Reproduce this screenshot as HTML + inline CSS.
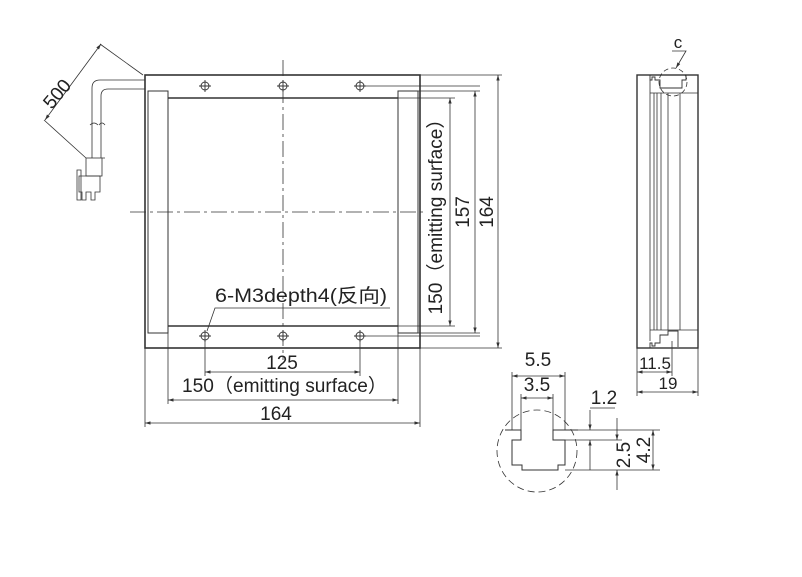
<!DOCTYPE html>
<html><head><meta charset="utf-8"><style>
html,body{margin:0;padding:0;background:#fff;}
svg{display:block;font-family:"Liberation Sans","Noto Sans CJK SC",sans-serif;}
</style></head><body>
<svg width="802" height="577" viewBox="0 0 802 577" xmlns="http://www.w3.org/2000/svg">
<defs>
<marker id="a" viewBox="0 0 10 10" refX="10" refY="5" markerWidth="7" markerHeight="7" orient="auto-start-reverse"><path d="M0,2 L10,5 L0,8 z" fill="#333"/></marker>
</defs>
<g stroke="#333" fill="none" stroke-width="1">
<rect x="145" y="75" width="275" height="273" stroke-width="1.6"/>
<rect x="148" y="91" width="20" height="242"/>
<rect x="398" y="91" width="20" height="242"/>
<line x1="168" y1="98" x2="398" y2="98" stroke-width="1.4"/>
<line x1="168" y1="326" x2="398" y2="326" stroke-width="1.4"/>
<line x1="283" y1="60" x2="283" y2="360" stroke-dasharray="16,4,3,4" stroke-width="0.8"/>
<line x1="130" y1="212" x2="425" y2="212" stroke-dasharray="16,4,3,4" stroke-width="0.8"/>
<g stroke-width="0.9">
<circle cx="205" cy="86" r="4"/><circle cx="283" cy="86" r="4"/><circle cx="360" cy="86" r="4"/>
<circle cx="205" cy="336" r="4"/><circle cx="283" cy="336" r="4"/><circle cx="360" cy="336" r="4"/>
<path d="M199,86h12M205,80v12M277,86h12M283,80v12M354,86h12M360,80v12M199,336h12M205,330v12M277,336h12M283,330v12M354,336h12M360,330v12"/>
</g>
<g stroke-width="0.8">
<line x1="364" y1="86" x2="480" y2="86"/><line x1="364" y1="336" x2="480" y2="336"/>
<line x1="398" y1="98" x2="455" y2="98"/><line x1="398" y1="326" x2="455" y2="326"/>
<line x1="418" y1="91" x2="480" y2="91"/><line x1="418" y1="333" x2="480" y2="333"/>
<line x1="420" y1="75" x2="502" y2="75"/><line x1="420" y1="348" x2="502" y2="348"/>
<line x1="450" y1="98" x2="450" y2="326" marker-start="url(#a)" marker-end="url(#a)"/>
<line x1="475" y1="91" x2="475" y2="333" marker-start="url(#a)" marker-end="url(#a)"/>
<line x1="498" y1="75" x2="498" y2="348" marker-start="url(#a)" marker-end="url(#a)"/>
<line x1="205" y1="340" x2="205" y2="376"/><line x1="360" y1="340" x2="360" y2="376"/>
<line x1="168" y1="326" x2="168" y2="404"/><line x1="398" y1="333" x2="398" y2="404"/>
<line x1="145" y1="348" x2="145" y2="427"/><line x1="420" y1="348" x2="420" y2="427"/>
<line x1="205" y1="372" x2="360" y2="372" marker-start="url(#a)" marker-end="url(#a)"/>
<line x1="168" y1="400" x2="398" y2="400" marker-start="url(#a)" marker-end="url(#a)"/>
<line x1="145" y1="423" x2="420" y2="423" marker-start="url(#a)" marker-end="url(#a)"/>
<polyline points="390,308 215,308 207,331"/>
<path d="M145,80 H100 Q92,80 92,88 V158"/>
<path d="M145,89 H108 Q101,89 101,96 V158"/>
<path d="M90,125 q4,-4 8,0 M99,125 q3,-4 6,0"/>
<rect x="86" y="158" width="16" height="18"/>
<path d="M79,176 h21 v16 h-5 v8 h-4 v-8 h-5 v8 h-4 v-8 h-3 z"/>
<path d="M77,170 h4 v30 h-4z M102,158 h3"/>
<line x1="100" y1="44" x2="143" y2="75"/>
<line x1="44" y1="120" x2="86" y2="158"/>
<line x1="45" y1="120" x2="101" y2="44" marker-start="url(#a)" marker-end="url(#a)"/>
</g>
<rect x="637" y="75" width="61" height="273" stroke-width="1.4"/>
<path d="M650,80 V341 M654,93 V330 M657,93 V330 M661,93 V330 M668,93 V330 M680,93 V330 M650,93 H698 M650,330 H698" stroke-width="0.8"/>
<path d="M650,75 v5 h2 v-3 h3 v3 h5 v8 h22 v-8 h4 v-5" stroke-width="0.9"/>
<path d="M650,348 v-5 h2 v3 h3 v-3 h5 v-8 h8 v-4 h10 v16" stroke-width="0.9"/>
<circle cx="673" cy="82" r="14" stroke-dasharray="5,3" stroke-width="0.8"/>
<path d="M672,51 H686 L676,68" stroke-width="0.8" marker-end="url(#a)"/>
<path d="M637,348 V396 M672,341 V376 M698,348 V396" stroke-width="0.8"/>
<line x1="637" y1="372" x2="672" y2="372" stroke-width="0.8" marker-start="url(#a)" marker-end="url(#a)"/>
<line x1="637" y1="392" x2="698" y2="392" stroke-width="0.8" marker-start="url(#a)" marker-end="url(#a)"/>
<ellipse cx="537" cy="451" rx="40" ry="41" stroke-dasharray="7,4" stroke-width="0.8"/>
<path d="M505,430 H521 V440 H512 V465 H522 V470 H558 V465 H565 V440 H553 V430 H578" stroke-width="1"/>
<path d="M512,430 V372 M565,430 V372 M521,430 V394 M553,430 V394" stroke-width="0.8"/>
<line x1="512" y1="376" x2="565" y2="376" stroke-width="0.8" marker-start="url(#a)" marker-end="url(#a)"/>
<line x1="521" y1="398" x2="553" y2="398" stroke-width="0.8" marker-start="url(#a)" marker-end="url(#a)"/>
<path d="M565,430 H660 M565,440 H622 M565,470 H660" stroke-width="0.8"/>
<line x1="590" y1="410" x2="590" y2="430" stroke-width="0.8" marker-end="url(#a)"/>
<line x1="590" y1="470" x2="590" y2="440" stroke-width="0.8" marker-end="url(#a)"/>
<path d="M590,408 H615" stroke-width="0.8"/>
<line x1="617" y1="418" x2="617" y2="440" stroke-width="0.8" marker-end="url(#a)"/>
<line x1="617" y1="490" x2="617" y2="470" stroke-width="0.8" marker-end="url(#a)"/>
<line x1="653" y1="430" x2="653" y2="470" stroke-width="0.8" marker-start="url(#a)" marker-end="url(#a)"/>
</g>
<g fill="#222" font-size="19">
<text x="62" y="98" transform="rotate(-50 62 98)" text-anchor="middle">500</text>
<text x="215" y="302" textLength="172" lengthAdjust="spacingAndGlyphs">6-M3depth4(反向)</text>
<text x="282" y="369" text-anchor="middle">125</text>
<text x="182" y="392" textLength="205" lengthAdjust="spacingAndGlyphs">150（emitting surface）</text>
<text x="276" y="420" text-anchor="middle">164</text>
<text transform="translate(442 212) rotate(-90)" text-anchor="middle" textLength="205" lengthAdjust="spacingAndGlyphs">150（emitting surface）</text>
<text transform="translate(469 212) rotate(-90)" text-anchor="middle">157</text>
<text transform="translate(493 212) rotate(-90)" text-anchor="middle">164</text>
<text x="678" y="48" text-anchor="middle" font-size="17">c</text>
<text x="655" y="369" text-anchor="middle" font-size="17">11.5</text>
<text x="668" y="389" text-anchor="middle" font-size="17">19</text>
<text x="538" y="366" text-anchor="middle">5.5</text>
<text x="537" y="391" text-anchor="middle">3.5</text>
<text x="604" y="404" text-anchor="middle">1.2</text>
<text transform="translate(630 455) rotate(-90)" text-anchor="middle">2.5</text>
<text transform="translate(650 450) rotate(-90)" text-anchor="middle">4.2</text>
</g>
</svg>
</body></html>
